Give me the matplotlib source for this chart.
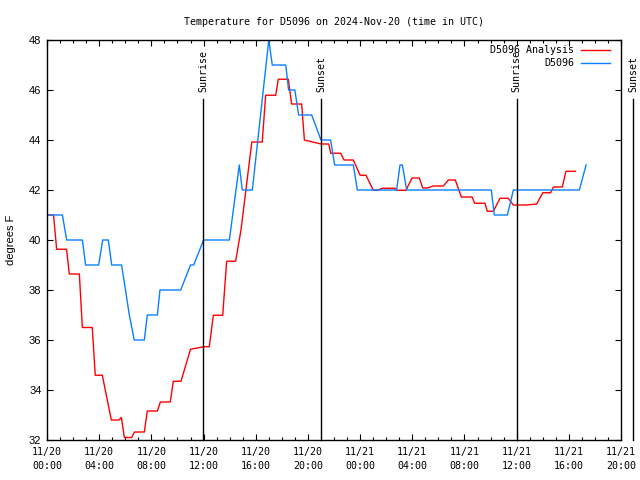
import matplotlib
matplotlib.use("Agg")
import matplotlib.pyplot as plt
from matplotlib.ticker import MultipleLocator

# ---- data (hours since 11/20 00:00 UTC, degrees F) ----
analysis_hr = [0, 0.5, 0.74, 1.5, 1.71, 2.48, 2.71, 3.47, 3.7, 4.24, 4.93, 5.52, 5.7, 5.93,
               6.49, 6.7, 7.46, 7.69, 8.46, 8.69, 9.45, 9.68, 10.27, 11.0, 12.0, 12.44, 12.75,
               13.47, 13.77, 14.46, 14.87, 15.7, 16.5, 16.76, 17.53, 17.73, 18.5, 18.75, 19.52,
               19.73, 21.0, 21.6, 21.75, 22.51, 22.77, 23.48, 24.0, 24.45, 25.01, 25.3, 25.73,
               26.68, 26.8, 27.52, 27.98, 28.54, 28.8, 29.15, 29.61, 30.38, 30.77, 31.3, 31.76,
               32.58, 32.78, 33.57, 33.75, 34.21, 34.73, 35.36, 35.75, 36.77, 37.54, 38.0,
               38.61, 38.82, 39.5, 39.78, 40.5]
analysis_temp = [41.0, 41.0, 39.63, 39.63, 38.64, 38.64, 36.5, 36.5, 34.59, 34.59, 32.8, 32.8,
                 32.9, 32.1, 32.1, 32.32, 32.32, 33.16, 33.16, 33.52, 33.52, 34.35, 34.35, 35.63,
                 35.73, 35.73, 36.99, 36.99, 39.15, 39.15, 40.4, 43.92, 43.92, 45.79, 45.79,
                 46.43, 46.43, 45.44, 45.44, 44.0, 43.84, 43.84, 43.47, 43.47, 43.2, 43.2, 42.59,
                 42.59, 41.99, 41.99, 42.07, 42.07, 41.99, 41.99, 42.48, 42.48, 42.08, 42.08,
                 42.16, 42.16, 42.4, 42.4, 41.72, 41.72, 41.47, 41.47, 41.15, 41.15, 41.67,
                 41.67, 41.4, 41.4, 41.44, 41.89, 41.89, 42.12, 42.12, 42.75, 42.75]

obs_hr = [0, 1.18, 1.51, 2.71, 2.96, 3.96, 4.27, 4.7, 4.96, 5.72, 6.31, 6.69, 7.46, 7.69,
          8.46, 8.66, 10.25, 11.0, 11.25, 12.0, 13.98, 14.74, 14.97, 15.74, 17.0, 17.27,
          18.3, 18.52, 19.0, 19.29, 20.29, 21.0, 21.74, 22.05, 23.48, 23.79, 26.8, 27.06,
          27.24, 27.57, 34.06, 34.29, 35.29, 35.75, 40.81, 41.32]
obs_temp = [41, 41, 40, 40, 39, 39, 40, 40, 39, 39, 37, 36, 36, 37, 37, 38, 38, 39, 39, 40,
            40, 43, 42, 42, 48, 47, 47, 46, 46, 45, 45, 44, 44, 43, 43, 42, 42, 43, 43, 42,
            42, 41, 41, 42, 42, 43]

sun_hr = [11.95, 21.0, 36.0, 44.95]
sun_lbl = ["Sunrise", "Sunset", "Sunrise", "Sunset"]

tick_hr = [0, 4, 8, 12, 16, 20, 24, 28, 32, 36, 40, 44]
tick_lbl = ["11/20\n00:00", "11/20\n04:00", "11/20\n08:00", "11/20\n12:00", "11/20\n16:00",
            "11/20\n20:00", "11/21\n00:00", "11/21\n04:00", "11/21\n08:00", "11/21\n12:00",
            "11/21\n16:00", "11/21\n20:00"]
series_names = ["D5096 Analysis", "D5096"]
series_colors = ["#ff0000", "#0a80ff"]

MONO = "DejaVu Sans Mono"
SANS = "Liberation Sans"
FS = 7.2

fig = plt.figure(figsize=(6.4, 4.8), dpi=100)
ax = fig.add_axes([47/640, 40/480, 574/640, 400/480])

ax.plot(analysis_hr, analysis_temp, color=series_colors[0], lw=1.0)
ax.plot(obs_hr, obs_temp, color=series_colors[1], lw=1.0)

ax.set_xlim(0, 44)
ax.set_ylim(32, 48)
ax.set_xticks(tick_hr)
ax.set_xticklabels(tick_lbl, fontfamily=MONO, fontsize=FS, linespacing=1.55)
ax.xaxis.set_minor_locator(MultipleLocator(1))
ax.set_yticks(range(32, 49, 2))
ax.set_yticklabels([str(v) for v in range(32, 49, 2)], fontfamily=SANS, fontsize=8)
ax.tick_params(axis='both', which='both', direction='in', top=True, right=True, width=0.8)
ax.tick_params(axis='both', which='major', length=4)
ax.tick_params(axis='x', which='minor', length=2.2)
ax.tick_params(axis='x', which='major', pad=5)
ax.tick_params(axis='y', which='major', pad=4)
for s in ax.spines.values():
    s.set_linewidth(1.0)

ax.set_ylabel("degrees F", fontfamily=SANS, fontsize=8, labelpad=9)
ax.set_title("Temperature for D5096 on 2024-Nov-20 (time in UTC)",
             fontfamily=MONO, fontsize=FS, pad=11)

# sunrise/sunset markers
for h, lbl in zip(sun_hr, sun_lbl):
    ax.axvline(h, ymin=0, ymax=0.8525, color="black", lw=1.0, clip_on=False)
    ax.text(h, 0.87, lbl, transform=ax.get_xaxis_transform(), rotation=90,
            ha="center", va="bottom", fontfamily=MONO, fontsize=FS, clip_on=False)

# legend (gnuplot style: text right-aligned, sample on the right)
for i, (name, col) in enumerate(zip(series_names, series_colors)):
    yy = 0.974 - i * 0.032
    ax.text(0.918, yy, name, transform=ax.transAxes, ha="right", va="center",
            fontfamily=MONO, fontsize=FS)
    ax.plot([0.930, 0.981], [yy, yy], transform=ax.transAxes, color=col, lw=1.0)

fig.savefig("out.png", dpi=100)
